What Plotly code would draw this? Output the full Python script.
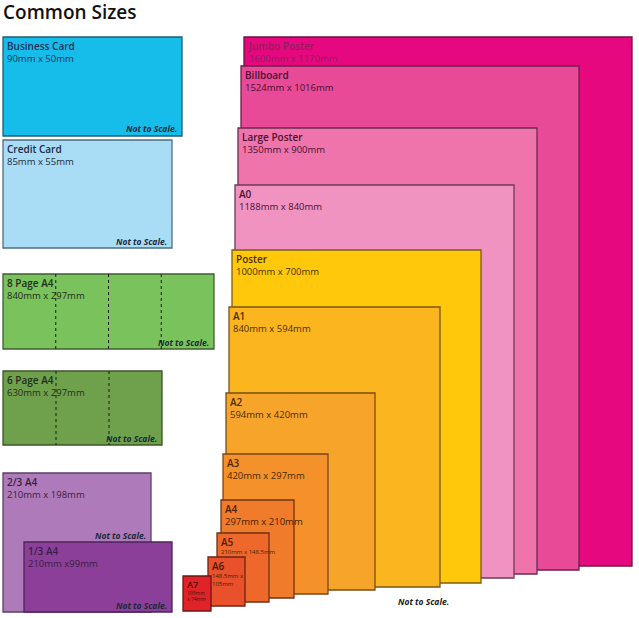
import plotly.graph_objects as go

# ---------------- data ----------------
names = ["Business Card", "Credit Card", "8 Page A4", "6 Page A4", "2/3 A4", "1/3 A4",
         "Jumbo Poster", "Billboard", "Large Poster", "A0", "Poster", "A1",
         "A2", "A3", "A4", "A5", "A6", "A7"]
dims = ["90mm x 50mm", "85mm x 55mm", "840mm x 297mm", "630mm x 297mm",
        "210mm x 198mm", "210mm x99mm",
        "1600mm x 1170mm", "1524mm x 1016mm", "1350mm x 900mm", "1188mm x 840mm",
        "1000mm x 700mm", "840mm x 594mm", "594mm x 420mm", "420mm x 297mm",
        "297mm x 210mm", "210mm x 148.5mm", "148.5mm x<br>105mm", "105mm<br>x 74mm"]
folds = [0, 0, 4, 3, 0, 0, 0, 0, 0, 0, 0, 0, 0, 0, 0, 0, 0, 0]

# ---------------- layout (infographic is not to scale) ----------------
# x0, y0 (top), x1, y1 (bottom) in page pixels
boxes = [
    (3, 37, 182, 136), (3, 140, 172, 248), (3, 274, 214, 349), (3, 371, 162, 445),
    (3, 473, 151, 612), (24, 542, 172, 612),
    (244, 37, 632, 566), (241, 66, 579, 570), (238, 128, 537, 574), (235, 185, 514, 578),
    (232, 250, 481, 583), (229, 307, 440, 587), (226, 393, 375, 590), (223, 454, 328, 594),
    (221, 500, 294, 598), (217, 533, 269, 602), (208, 557, 245, 606), (183, 576, 211, 611),
]
nts_y = [128, 241, 342, 438, 535, 605]  # centre of "Not to Scale." notes
fills = ["#16BDEB", "#A9DDF6", "#79C25C", "#6FA14C", "#AE7AB9", "#8B3F99",
         "#E5087F", "#E84A97", "#EE74AB", "#F193C0", "#FFC80B", "#FBB51F",
         "#F7A52A", "#F4912B", "#F07B2B", "#EE682C", "#E8512B", "#E02229"]
edges = ["#1F5D73", "#4E6F80", "#3E5E30", "#3B5529", "#5D3F66", "#4E2458",
         "#6E1040", "#6E1F48", "#6E2A4E", "#6E3A55", "#7A5E10", "#7A5518",
         "#7A4E18", "#7A4518", "#6E3414", "#6E3014", "#6E2414", "#6E1414"]
name_sizes = [10] * 15 + [10, 10, 9]
dim_sizes = [9.5] * 15 + [6, 6, 5]
text_col = ["#1E2F55", "#1E2A40", "#1F2F1A", "#1F2F1A", "#3A1F40", "#3A1F40",
            "#8E2060", "#4A1030", "#4A1030", "#4A1030", "#4A3000", "#4A3000",
            "#4A2A00", "#4A2A00", "#4A2000", "#4A2000", "#4A1800", "#4A1000"]

FONT = "Open Sans"

fig = go.Figure()
shapes = []
annotations = []

for i, (x0, y0, x1, y1) in enumerate(boxes):
    shapes.append(dict(type="rect", xref="x", yref="y", x0=x0, y0=y0, x1=x1, y1=y1,
                       fillcolor=fills[i], line=dict(color=edges[i], width=1.3),
                       layer="above"))
    for k in range(1, folds[i]):
        xf = x0 + (x1 - x0) * k / folds[i]
        shapes.append(dict(type="line", xref="x", yref="y", x0=xf, x1=xf, y0=y0, y1=y1,
                           line=dict(color="#1a1a1a", width=1, dash="dot"), layer="above"))
    txt = (f"<span style='font-size:{name_sizes[i]}px;font-weight:600'>{names[i]}</span><br>"
           f"<span style='font-size:{dim_sizes[i]}px'>{dims[i]}</span>")
    annotations.append(dict(x=x0 + 2, y=y0 - 0.5, xref="x", yref="y",
                            text=txt, showarrow=False, xanchor="left", yanchor="top",
                            align="left",
                            font=dict(family=FONT, size=dim_sizes[i] if i >= 15 else 9.5,
                                      color=text_col[i])))

for i in range(6):
    x0, y0, x1, y1 = boxes[i]
    annotations.append(dict(x=x1 - 3, y=nts_y[i], xref="x", yref="y",
                            text="<b><i>Not to Scale.</i></b>", showarrow=False,
                            xanchor="right", yanchor="middle",
                            font=dict(family=FONT, size=8.5, color="#1a2a3a")))

annotations.append(dict(x=423, y=601, xref="x", yref="y",
                        text="<b><i>Not to Scale.</i></b>", showarrow=False,
                        xanchor="center", yanchor="middle",
                        font=dict(family=FONT, size=8.5, color="#1a1a1a")))
annotations.append(dict(x=1, y=12, xref="x", yref="y", text="Common Sizes",
                        showarrow=False, xanchor="left", yanchor="middle",
                        font=dict(family=FONT, size=19, color="#111111", weight=600)))

fig.update_layout(
    width=639, height=618, margin=dict(l=0, r=0, t=0, b=0),
    paper_bgcolor="white", plot_bgcolor="white",
    xaxis=dict(range=[0, 639], visible=False, fixedrange=True),
    yaxis=dict(range=[618, 0], visible=False, fixedrange=True),
    shapes=shapes, annotations=annotations, showlegend=False,
)
fig.write_html("out.html", config={"displayModeBar": False},
               post_script="document.body.style.margin='0';document.body.style.overflow='hidden';")
